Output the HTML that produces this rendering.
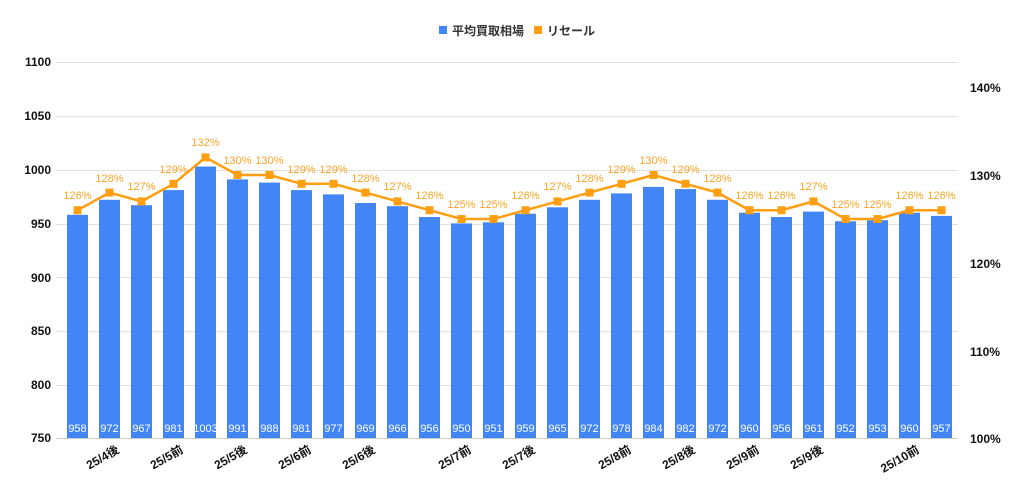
<!DOCTYPE html>
<html><head><meta charset="utf-8"><style>body{margin:0;background:#fff}svg{display:block;font-family:"Liberation Sans","Noto Sans CJK JP",sans-serif}</style></head><body>
<svg width="1024" height="496" viewBox="0 0 1024 496">
<g stroke="#e0e0e0" stroke-width="1">
<line x1="56" y1="62.5" x2="958" y2="62.5"/><line x1="56" y1="116.5" x2="958" y2="116.5"/><line x1="56" y1="170.5" x2="958" y2="170.5"/><line x1="56" y1="224.5" x2="958" y2="224.5"/><line x1="56" y1="277.5" x2="958" y2="277.5"/><line x1="56" y1="331.5" x2="958" y2="331.5"/><line x1="56" y1="385.5" x2="958" y2="385.5"/>
</g>
<line x1="56" y1="438.5" x2="958" y2="438.5" stroke="#ccc"/>
<g font-size="12" fill="#111" font-weight="bold" text-anchor="end">
<text x="51" y="66">1100</text><text x="51" y="120">1050</text><text x="51" y="174">1000</text><text x="51" y="228">950</text><text x="51" y="282">900</text><text x="51" y="335">850</text><text x="51" y="389">800</text><text x="51" y="442">750</text>
</g>
<g font-size="12" fill="#111" font-weight="bold">
<text x="970" y="92">140%</text><text x="970" y="180">130%</text><text x="970" y="268">120%</text><text x="970" y="356">110%</text><text x="970" y="443">100%</text>
</g>
<g fill="#4285f4">
<rect x="67" y="214.8" width="21" height="223.2"/><rect x="99" y="199.8" width="21" height="238.2"/><rect x="131" y="205.2" width="21" height="232.8"/><rect x="163" y="190.1" width="21" height="247.9"/><rect x="195" y="166.5" width="21" height="271.5"/><rect x="227" y="179.4" width="21" height="258.6"/><rect x="259" y="182.6" width="21" height="255.4"/><rect x="291" y="190.1" width="21" height="247.9"/><rect x="323" y="194.4" width="21" height="243.6"/><rect x="355" y="203" width="21" height="235"/><rect x="387" y="206.2" width="21" height="231.8"/><rect x="419" y="217" width="21" height="221"/><rect x="451" y="223.4" width="21" height="214.6"/><rect x="483" y="222.3" width="21" height="215.7"/><rect x="515" y="213.7" width="21" height="224.3"/><rect x="547" y="207.3" width="21" height="230.7"/><rect x="579" y="199.8" width="21" height="238.2"/><rect x="611" y="193.4" width="21" height="244.6"/><rect x="643" y="186.9" width="21" height="251.1"/><rect x="675" y="189.1" width="21" height="248.9"/><rect x="707" y="199.8" width="21" height="238.2"/><rect x="739" y="212.7" width="21" height="225.3"/><rect x="771" y="217" width="21" height="221"/><rect x="803" y="211.6" width="21" height="226.4"/><rect x="835" y="221.3" width="21" height="216.7"/><rect x="867" y="220.2" width="21" height="217.8"/><rect x="899" y="212.7" width="21" height="225.3"/><rect x="931" y="215.9" width="21" height="222.1"/>
</g>
<g font-size="11" fill="#fff" text-anchor="middle">
<text x="77.5" y="432">958</text><text x="109.5" y="432">972</text><text x="141.5" y="432">967</text><text x="173.5" y="432">981</text><text x="205.5" y="432">1003</text><text x="237.5" y="432">991</text><text x="269.5" y="432">988</text><text x="301.5" y="432">981</text><text x="333.5" y="432">977</text><text x="365.5" y="432">969</text><text x="397.5" y="432">966</text><text x="429.5" y="432">956</text><text x="461.5" y="432">950</text><text x="493.5" y="432">951</text><text x="525.5" y="432">959</text><text x="557.5" y="432">965</text><text x="589.5" y="432">972</text><text x="621.5" y="432">978</text><text x="653.5" y="432">984</text><text x="685.5" y="432">982</text><text x="717.5" y="432">972</text><text x="749.5" y="432">960</text><text x="781.5" y="432">956</text><text x="813.5" y="432">961</text><text x="845.5" y="432">952</text><text x="877.5" y="432">953</text><text x="909.5" y="432">960</text><text x="941.5" y="432">957</text>
</g>
<polyline fill="none" stroke="#ff9e10" stroke-width="2.5" points="77.5,210.2 109.5,192.6 141.5,201.4 173.5,183.8 205.5,157.4 237.5,175 269.5,175 301.5,183.8 333.5,183.8 365.5,192.6 397.5,201.4 429.5,210.2 461.5,219 493.5,219 525.5,210.2 557.5,201.4 589.5,192.6 621.5,183.8 653.5,175 685.5,183.8 717.5,192.6 749.5,210.2 781.5,210.2 813.5,201.4 845.5,219 877.5,219 909.5,210.2 941.5,210.2"/>
<g fill="#ff9e10">
<rect x="73.5" y="206.2" width="8" height="8"/><rect x="105.5" y="188.6" width="8" height="8"/><rect x="137.5" y="197.4" width="8" height="8"/><rect x="169.5" y="179.8" width="8" height="8"/><rect x="201.5" y="153.4" width="8" height="8"/><rect x="233.5" y="171" width="8" height="8"/><rect x="265.5" y="171" width="8" height="8"/><rect x="297.5" y="179.8" width="8" height="8"/><rect x="329.5" y="179.8" width="8" height="8"/><rect x="361.5" y="188.6" width="8" height="8"/><rect x="393.5" y="197.4" width="8" height="8"/><rect x="425.5" y="206.2" width="8" height="8"/><rect x="457.5" y="215" width="8" height="8"/><rect x="489.5" y="215" width="8" height="8"/><rect x="521.5" y="206.2" width="8" height="8"/><rect x="553.5" y="197.4" width="8" height="8"/><rect x="585.5" y="188.6" width="8" height="8"/><rect x="617.5" y="179.8" width="8" height="8"/><rect x="649.5" y="171" width="8" height="8"/><rect x="681.5" y="179.8" width="8" height="8"/><rect x="713.5" y="188.6" width="8" height="8"/><rect x="745.5" y="206.2" width="8" height="8"/><rect x="777.5" y="206.2" width="8" height="8"/><rect x="809.5" y="197.4" width="8" height="8"/><rect x="841.5" y="215" width="8" height="8"/><rect x="873.5" y="215" width="8" height="8"/><rect x="905.5" y="206.2" width="8" height="8"/><rect x="937.5" y="206.2" width="8" height="8"/>
</g>
<g font-size="11" fill="#ffa425" text-anchor="middle">
<text x="77.5" y="199">126%</text><text x="109.5" y="182">128%</text><text x="141.5" y="190">127%</text><text x="173.5" y="173">129%</text><text x="205.5" y="146">132%</text><text x="237.5" y="164">130%</text><text x="269.5" y="164">130%</text><text x="301.5" y="173">129%</text><text x="333.5" y="173">129%</text><text x="365.5" y="182">128%</text><text x="397.5" y="190">127%</text><text x="429.5" y="199">126%</text><text x="461.5" y="208">125%</text><text x="493.5" y="208">125%</text><text x="525.5" y="199">126%</text><text x="557.5" y="190">127%</text><text x="589.5" y="182">128%</text><text x="621.5" y="173">129%</text><text x="653.5" y="164">130%</text><text x="685.5" y="173">129%</text><text x="717.5" y="182">128%</text><text x="749.5" y="199">126%</text><text x="781.5" y="199">126%</text><text x="813.5" y="190">127%</text><text x="845.5" y="208">125%</text><text x="877.5" y="208">125%</text><text x="909.5" y="199">126%</text><text x="941.5" y="199">126%</text>
</g>
<g font-size="12" fill="#111" font-weight="bold" text-anchor="end">
<text transform="translate(120,452) rotate(-30)">25/4後</text>
<text transform="translate(184,452) rotate(-30)">25/5前</text>
<text transform="translate(248,452) rotate(-30)">25/5後</text>
<text transform="translate(312,452) rotate(-30)">25/6前</text>
<text transform="translate(376,452) rotate(-30)">25/6後</text>
<text transform="translate(472,452) rotate(-30)">25/7前</text>
<text transform="translate(536,452) rotate(-30)">25/7後</text>
<text transform="translate(632,452) rotate(-30)">25/8前</text>
<text transform="translate(696,452) rotate(-30)">25/8後</text>
<text transform="translate(760,452) rotate(-30)">25/9前</text>
<text transform="translate(824,452) rotate(-30)">25/9後</text>
<text transform="translate(920,452) rotate(-30)">25/10前</text>
</g>
<rect x="439" y="26" width="8" height="8" fill="#4285f4"/>
<text x="452" y="35" font-size="12" fill="#333" font-weight="bold">平均買取相場</text>
<rect x="534" y="26" width="8" height="8" fill="#ff9e10"/>
<text x="547" y="35" font-size="12" fill="#333" font-weight="bold">リセール</text>
</svg>
</body></html>
